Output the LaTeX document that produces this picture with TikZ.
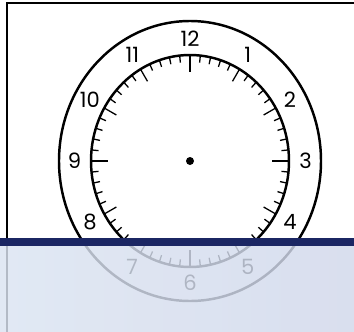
\documentclass[tikz,border=0pt]{standalone}
\usepackage{fontspec}
\setmainfont{Poppins}
\usetikzlibrary{calc}
\definecolor{cnavy}{HTML}{1B2663}
\definecolor{cpaleL}{HTML}{DBE4F2}
\definecolor{cpaleR}{HTML}{D1D8EB}
\tikzset{
  every picture/.style={line width=1pt},
  rim/.style={draw=black, line width=2.1pt},
  tickmark/.style={draw=black, line width=1.1pt},
  numeral/.style={font=\fontsize{18}{18}\selectfont, inner sep=0pt},
  veil/.style={left color=cpaleL, right color=cpaleR, fill opacity=0.82},
}

\begin{document}
\begin{tikzpicture}[x=0.03cm, y=-0.03cm]
  \useasboundingbox (0,0) rectangle (354,332);
  \fill[white] (0,0) rectangle (354,332);
  % frame of the page
  \draw[line width=1.5pt] (7,332) -- (7,3) -- (354,3);
  % clock face
  \begin{scope}[shift={(190,161)}]
    \coordinate (centre) at (0,0);
    \draw[rim] (centre) ellipse [x radius=131, y radius=140];
    \draw[rim] (centre) ellipse [x radius=99, y radius=106];
    \foreach \m in {0,...,59} {
      \pgfmathsetmacro{\len}{mod(\m,15)==0 ? 17 : (mod(\m,5)==0 ? 14 : 7)}
      \draw[tickmark] ({99*sin(6*\m)},{-106*cos(6*\m)}) -- ({(99-\len)*sin(6*\m)},{-(106-\len)*cos(6*\m)});
    }
    \fill (centre) circle [radius=4];
    \foreach \h in {1,...,12}
      \node[numeral] (n\h) at ({115.5*sin(30*\h)},{-122*cos(30*\h)}) {\h};
  \end{scope}
  % translucent panel over the bottom
  \shade[veil] (0,246) rectangle (354,332);
  \fill[cnavy] (0,238) rectangle (354,246);
\end{tikzpicture}
\end{document}
